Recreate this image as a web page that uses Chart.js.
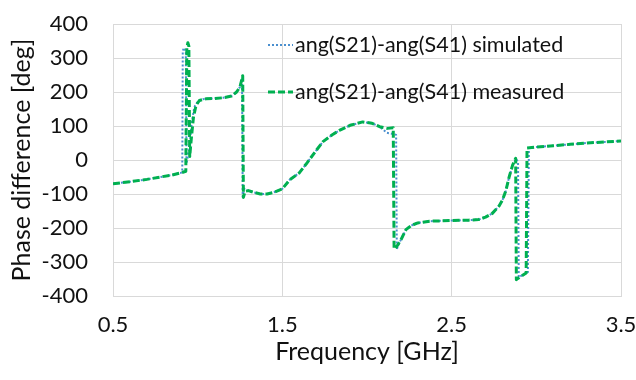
<!DOCTYPE html>
<html>
<head>
<meta charset="utf-8">
<script src="https://cdn.jsdelivr.net/npm/chart.js@4.4.1/dist/chart.umd.min.js"></script>
<style>
  html, body { margin: 0; padding: 0; background: #fff; }
  #chart { display: block; }
</style>
</head>
<body>
<canvas id="chart" width="636" height="380"></canvas>
<script>
// frequency [GHz] and phase difference [deg]
const simFreq = [0.50, 0.60, 0.70, 0.78, 0.85, 0.90, 0.909, 0.912, 0.918, 0.930, 0.934,
  0.950, 0.965, 0.980, 1.00, 1.03, 1.08, 1.15, 1.20, 1.23, 1.25, 1.262, 1.266,
  1.275, 1.285, 1.30, 1.33, 1.37, 1.41, 1.45, 1.50, 1.544, 1.60, 1.645, 1.70, 1.74,
  1.80, 1.84, 1.90, 1.975, 2.03, 2.075, 2.117, 2.16, 2.172, 2.176, 2.19, 2.20, 2.23,
  2.26, 2.30, 2.37, 2.50, 2.60, 2.66, 2.70, 2.74, 2.78, 2.80, 2.82, 2.84, 2.86, 2.88,
  2.892, 2.896, 2.95, 2.956, 3.00, 3.10, 3.20, 3.30, 3.40, 3.50];
const simPhase = [-70, -64, -57, -50, -44, -38, -36, 320, 330, 320, -10,
  30, 110, 155, 172, 179, 181, 183, 188, 200, 215, 240, -108,
  -84, -88, -90, -95, -100, -100, -95, -85, -58, -38, -9, 28, 54,
  76, 88, 102, 112, 108, 98, 80, 76, 74, -262, -245, -235, -205,
  -193, -185, -180, -178, -177, -175, -168, -157, -135, -118, -90, -49, -15, 3,
  -5, -345, -330, 35, 38, 42, 46, 50, 53, 56];

const measFreq = [0.50, 0.60, 0.70, 0.78, 0.85, 0.90, 0.930, 0.936, 0.942, 0.948, 0.953,
  0.962, 0.975, 0.99, 1.01, 1.05, 1.10, 1.15, 1.20, 1.23, 1.25, 1.266, 1.270,
  1.28, 1.30, 1.33, 1.37, 1.41, 1.45, 1.50, 1.544, 1.60, 1.645, 1.70, 1.74,
  1.80, 1.84, 1.90, 1.975, 2.03, 2.075, 2.12, 2.155, 2.160, 2.175, 2.20, 2.23,
  2.26, 2.30, 2.37, 2.50, 2.60, 2.66, 2.70, 2.74, 2.78, 2.80, 2.82, 2.84, 2.86, 2.878,
  2.882, 2.886, 2.94, 2.945, 3.00, 3.10, 3.20, 3.30, 3.40, 3.50];
const measPhase = [-70, -64, -57, -50, -44, -38, -33, 330, 345, 335, 10,
  60, 125, 160, 175, 180, 181, 183, 188, 200, 215, 248, -110,
  -92, -90, -95, -100, -100, -95, -85, -58, -38, -9, 28, 54,
  76, 88, 102, 112, 108, 98, 93, 95, -262, -255, -235, -205,
  -193, -185, -180, -178, -177, -175, -168, -157, -135, -118, -90, -49, -15, 5,
  -352, -350, -332, 35, 38, 42, 46, 50, 53, 56];

const xTicks = [0.5, 1.5, 2.5, 3.5];
const yTicks = [-400, -300, -200, -100, 0, 100, 200, 300, 400];

const font = 'Lato';

function pairs(xs, ys) {
  return xs.map((x, i) => ({ x: x, y: ys[i] }));
}

// legend drawn inside the plot area, like the original
const insideLegend = {
  id: 'insideLegend',
  afterDraw(chart) {
    const ctx = chart.ctx;
    const rows = [45, 92];
    ctx.save();
    ctx.font = '21.5px ' + font;
    ctx.textBaseline = 'middle';
    chart.data.datasets.forEach((ds, i) => {
      const y = rows[i];
      ctx.strokeStyle = ds.borderColor;
      ctx.lineWidth = ds.borderWidth;
      ctx.setLineDash(ds.borderDash);
      ctx.beginPath();
      ctx.moveTo(268, y);
      ctx.lineTo(293, y);
      ctx.stroke();
      ctx.setLineDash([]);
      ctx.fillStyle = '#111';
      ctx.fillText(ds.label, 295, y);
    });
    ctx.restore();
  }
};

new Chart(document.getElementById('chart'), {
  type: 'line',
  data: {
    datasets: [{
      label: 'ang(S21)-ang(S41) simulated',
      data: pairs(simFreq, simPhase),
      borderColor: '#4a8fcf',
      borderWidth: 2,
      borderDash: [2, 2],
      borderJoinStyle: 'round',
      pointRadius: 0,
      tension: 0,
      order: 1
    }, {
      label: 'ang(S21)-ang(S41) measured',
      data: pairs(measFreq, measPhase),
      borderColor: '#00b050',
      borderWidth: 3,
      borderDash: [7, 3],
      borderJoinStyle: 'round',
      pointRadius: 0,
      tension: 0,
      order: 0
    }]
  },
  options: {
    responsive: false,
    animation: false,
    devicePixelRatio: 1,
    layout: { padding: 0 },
    plugins: {
      legend: { display: false },
      tooltip: { enabled: false }
    },
    scales: {
      x: {
        type: 'linear',
        min: 0.5,
        max: 3.5,
        afterBuildTicks: (scale) => { scale.ticks = xTicks.map(v => ({ value: v })); },
        afterFit: (scale) => {
          scale.height = 84;
          scale.paddingLeft = 0;
          scale.paddingRight = 15;
        },
        grid: { color: '#d9d9d9', drawTicks: false },
        border: { color: '#d9d9d9' },
        ticks: {
          padding: 16,
          color: '#111',
          font: { family: font, size: 22 },
          callback: (v) => v.toFixed(1)
        },
        title: {
          display: true,
          text: 'Frequency [GHz]',
          color: '#111',
          font: { family: font, size: 25 },
          padding: { top: 0, bottom: 13 }
        }
      },
      y: {
        min: -400,
        max: 400,
        afterBuildTicks: (scale) => { scale.ticks = yTicks.map(v => ({ value: v })); },
        afterFit: (scale) => {
          scale.width = 113;
          scale.paddingTop = 24;
          scale.paddingBottom = 0;
        },
        grid: { color: '#d9d9d9', drawTicks: false },
        border: { color: '#d9d9d9' },
        ticks: {
          padding: 25,
          color: '#111',
          font: { family: font, size: 22 }
        },
        title: {
          display: true,
          text: 'Phase difference [deg]',
          color: '#111',
          font: { family: font, size: 25 },
          padding: { top: 7, bottom: 0 }
        }
      }
    }
  },
  plugins: [insideLegend]
});
</script>
</body>
</html>
